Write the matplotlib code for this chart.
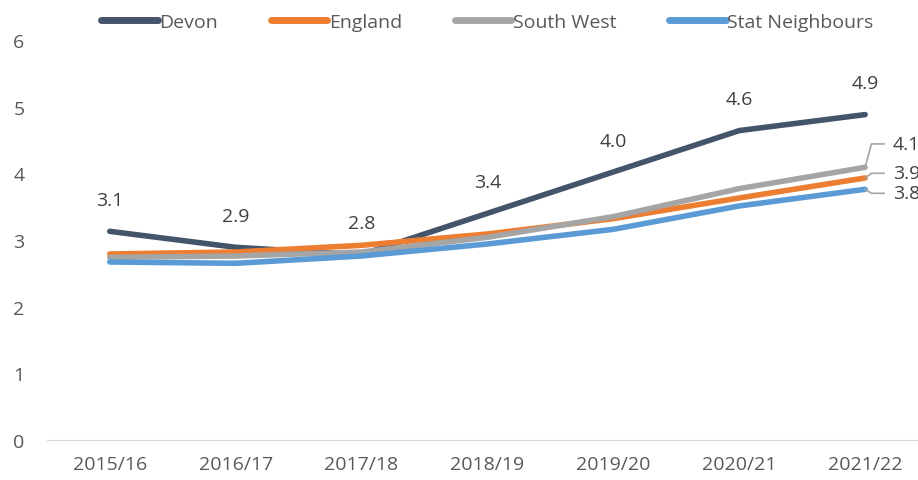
import matplotlib
matplotlib.use("Agg")
import matplotlib.pyplot as plt

years = ["2015/16", "2016/17", "2017/18", "2018/19", "2019/20", "2020/21", "2021/22"]
devon = [3.13, 2.89, 2.78, 3.40, 4.02, 4.64, 4.88]
england = [2.79, 2.82, 2.92, 3.09, 3.32, 3.63, 3.93]
south_west = [2.74, 2.76, 2.82, 3.04, 3.35, 3.77, 4.09]
stat_neighbours = [2.67, 2.65, 2.76, 2.94, 3.16, 3.51, 3.76]
devon_labels = ["3.1", "2.9", "2.8", "3.4", "4.0", "4.6", "4.9"]
end_labels = ["4.1", "3.9", "3.8"]

plt.rcParams['font.family'] = ['Open Sans', 'DejaVu Sans']
txt = "#595959"

fig = plt.figure(figsize=(9.18, 4.81), dpi=100)
ax = fig.add_axes([0.051, 0.083, 0.96, 0.832])

x = list(range(len(years)))
series = [("Devon", devon, "#44546A"), ("England", england, "#ED7D31"),
          ("South West", south_west, "#A5A5A5"), ("Stat Neighbours", stat_neighbours, "#5B9BD5")]
for name, vals, col in series:
    ax.plot(x, vals, color=col, lw=4, solid_capstyle='round', label=name)

for xi, v, lab in zip(x, devon, devon_labels):
    ax.annotate(lab, (xi, v), xytext=(0, 16), textcoords='offset points',
                ha='center', va='bottom', fontsize=14, color="#404040")

# end labels with leader lines
last = len(years) - 1
ends = [(south_west[-1], 4.44), (england[-1], 4.00), (stat_neighbours[-1], 3.70)]
for (v, ty), lab in zip(ends, end_labels):
    ax.plot([last, last + 0.05, last + 0.15], [v, ty, ty], color="#A5A5A5", lw=1.2, clip_on=False)
    ax.text(last + 0.22, ty, lab, ha='left', va='center', fontsize=14, color="#404040", clip_on=False)

ax.set_xlim(-0.5, len(years) - 0.5)
ax.set_ylim(0, 6)
ax.set_yticks(range(0, 7))
ax.set_xticks(x)
ax.set_xticklabels(years)
ax.tick_params(axis='both', length=0, labelsize=14, colors=txt)
ax.tick_params(axis='x', pad=11)
ax.tick_params(axis='y', pad=16)
for s in ['top', 'right', 'left']:
    ax.spines[s].set_visible(False)
ax.spines['bottom'].set_color("#D9D9D9")

leg = ax.legend(loc='center', bbox_to_anchor=(0.50, 1.045), ncol=4, frameon=False,
                fontsize=14, handlelength=2.9, handletextpad=0.1, columnspacing=2.7)
for t in leg.get_texts():
    t.set_color(txt)
for h in leg.get_lines():
    h.set_linewidth(5)

fig.savefig("out.png", dpi=100)
